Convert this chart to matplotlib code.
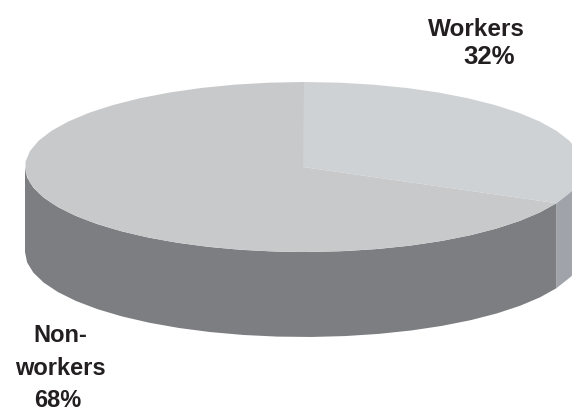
import numpy as np
import matplotlib
matplotlib.use("Agg")
import matplotlib.pyplot as plt

# data
workers_label = "Workers"
workers_pct = "32%"
others_label = ["Non-", "workers"]
others_pct = "68%"
shares = [32, 68]

# colours
TOP_WORKERS = '#cfd2d5'
TOP_OTHERS = '#c8c9cb'
WALL_WORKERS = '#a0a4aa'
WALL_OTHERS = '#7c7e82'
INK = '#231f20'

# pie geometry in image pixels
W, H = 572, 411
CX, CY = 304, 167
RX, RY = 279, 85
DEPTH = 85


def rim(a0, a1, step=7.0):
    """Ellipse points, angles clockwise from 12 o'clock in degrees."""
    n = max(int(abs(a1 - a0) / step), 1)
    t = np.radians(np.linspace(a0, a1, n + 1))
    return CX + RX * np.sin(t), CY - RY * np.cos(t)


fig = plt.figure(figsize=(W / 100, H / 100), dpi=100)
ax = fig.add_axes([0, 0, 1, 1])
ax.set_xlim(0, W)
ax.set_ylim(H, 0)
ax.axis('off')

split = 360 * shares[0] / sum(shares)

# walls, only the front half of the rim is visible
xs, ys = rim(90, split)
ax.fill(np.r_[xs, xs[::-1]], np.r_[ys, ys[::-1] + DEPTH], color=WALL_WORKERS, lw=0)
xs, ys = rim(split, 270)
ax.fill(np.r_[xs, xs[::-1]], np.r_[ys, ys[::-1] + DEPTH], color=WALL_OTHERS, lw=0)

# top face
xs, ys = rim(0, split)
ax.fill(np.r_[CX - 1, xs[0] - 1, xs], np.r_[CY, ys[0], ys], color=TOP_WORKERS, lw=0)
xs, ys = rim(split, 360)
ax.fill(np.r_[CX - 1, xs], np.r_[CY, ys], color=TOP_OTHERS, lw=0)

font = dict(family='Liberation Sans', fontweight='bold', color=INK, va='baseline')
ax.text(476, 36, workers_label, ha='center', fontsize=17.5, **font)
ax.text(489, 64, workers_pct, ha='center', fontsize=18.5, **font)
ax.text(60, 342, others_label[0], ha='center', fontsize=17, **font)
ax.text(60, 375, others_label[1], ha='center', fontsize=17, **font)
ax.text(58, 407, others_pct, ha='center', fontsize=17, **font)

fig.savefig('out.png', dpi=100, facecolor='white')
